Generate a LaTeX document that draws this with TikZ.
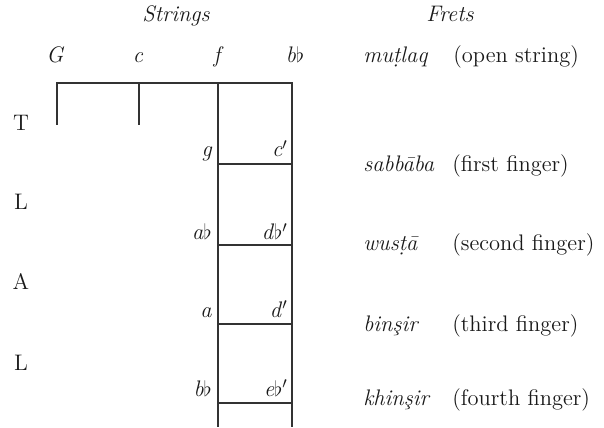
\documentclass[tikz,border=0pt]{standalone}
\usepackage{amsmath,amssymb}
\usepackage{xcolor}
\usepackage{tikz}
\usetikzlibrary{positioning}

\newcommand{\lblfont}{\fontsize{12.8}{15}\selectfont}

\begin{document}
\begin{tikzpicture}[
    x=0.02cm, y=-0.02cm,
    % --- Text styles ---
    headlbl/.style={font=\lblfont\itshape, text=black!90, inner sep=0pt, anchor=base},
    strlbl/.style={font=\lblfont\itshape, text=black!90, inner sep=0pt, anchor=base},
    rowlbl/.style={font=\lblfont, text=black!90, inner sep=0pt, anchor=base},
    notelbl/.style={font=\lblfont\itshape, text=black!90, inner sep=0pt, anchor=base east},
    fretlbl/.style={font=\lblfont\itshape, text=black!90, inner sep=0pt, anchor=base west},
    fingerlbl/.style={font=\lblfont, text=black!90, inner sep=0pt, anchor=base west},
    % --- Line styles ---
    stringline/.style={draw=black!80, line width=0.85pt},
    fretline/.style={draw=black!80, line width=0.85pt},
]
\useasboundingbox (0,0) rectangle (604,428);

% ---- Headings ----
\node[headlbl] (strings) at (176,22) {Strings};
\node[headlbl] (frets) at (450,22) {Frets};

% ---- Open strings ----
\node[strlbl] (sG) at (55,63) {G};
\node[strlbl] (sc) at (138,63) {c};
\node[strlbl] (sf) at (217,63) {f};
\node[strlbl] (sb) at (295,63) {b\/$\flat$};

% ---- Strings and nut ----
\coordinate (Gtop) at (57,83);
\coordinate (ctop) at (139,83);
\coordinate (ftop) at (218,83);
\coordinate (btop) at (292,83);
\coordinate (Gend) at (57,125);
\coordinate (cend) at (139,125);
\coordinate (fend) at (218,427);
\coordinate (bend) at (292,427);

\draw[stringline] (Gend) -- (Gtop) -- (btop) -- (bend);
\draw[stringline] (ctop) -- (cend);
\draw[stringline] (ftop) -- (fend);

% ---- Frets ----
\foreach \y in {164,245,324,403}{
    \draw[fretline] (218,\y) -- (292,\y);
}

% ---- Interval letters ----
\foreach \y/\ch/\nm in {131/T/t1, 210/L/l1, 290/A/a1, 370/L/l2}{
    \node[rowlbl] (row\nm) at (21,\y) {\ch};
}

% ---- Notes on the f and b-flat strings ----
\node[notelbl] (ng)  at (212,157) {g};
\node[notelbl] (nab) at (212,240) {a\/$\flat$};
\node[notelbl] (na)  at (212,317) {a};
\node[notelbl] (nbb) at (212,396) {b\/$\flat$};

\node[notelbl] (nc)  at (288,157) {c$'$};
\node[notelbl] (ndb) at (288,240) {d\/$\flat'$};
\node[notelbl] (nd)  at (288,317) {d\/$'$};
\node[notelbl] (neb) at (288,396) {e\/$\flat'$};

% ---- Fret names ----
\node[fretlbl] (mutlaq)  at (363,63)  {mu\d{t}laq};
\node[fretlbl] (sabbaba) at (363,172) {sabb\={a}ba};
\node[fretlbl] (wusta)   at (363,251) {wus\d{t}\={a}};
\node[fretlbl] (binsir)  at (363,332) {bin\c{s}ir};
\node[fretlbl] (khinsir) at (363,405) {khin\c{s}ir};

\node[fingerlbl] (open)   at (453,63)  {(open string)};
\node[fingerlbl] (first)  at (452,172) {(first finger)};
\node[fingerlbl] (second) at (452,251) {(second finger)};
\node[fingerlbl] (third)  at (452,332) {(third finger)};
\node[fingerlbl] (fourth) at (452,405) {(fourth finger)};

\end{tikzpicture}
\end{document}
